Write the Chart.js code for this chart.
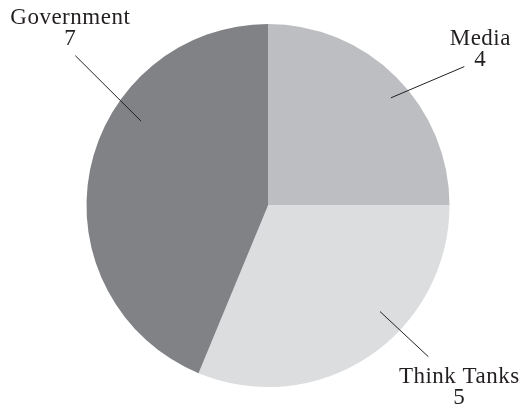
<!DOCTYPE html>
<html>
<head>
<meta charset="utf-8">
<script src="https://cdn.jsdelivr.net/npm/chart.js@4.4.0/dist/chart.umd.min.js"></script>
<style>
  html, body { margin: 0; padding: 0; background: #fff; }
  canvas { display: block; }
</style>
</head>
<body>
<canvas id="pieChart" width="524" height="408"></canvas>
<script>
// data
const categories = ['Media', 'Think Tanks', 'Government'];
const counts = [4, 5, 7];
const sliceColors = ['#bdbec1', '#dcdddf', '#818286'];

// leader lines: where they sit on each slice (fraction of slice angle, fraction of radius)
// and where the label goes relative to the outer end of the line
const leaders = [
  { inA: 0.542, inR: 0.90, outA: 0.608, outR: 1.325, dx: 16, dy: -22 },
  { inA: 0.386, inR: 0.85, outA: 0.385, outR: 1.214, dx: 31, dy: 26 },
  { inA: 0.642, inR: 0.84, outA: 0.669, outR: 1.345, dx: -5, dy: -32 }
];

const leaderPlugin = {
  id: 'leaderLabels',
  afterDatasetsDraw(chart) {
    const ctx = chart.ctx;
    const arcs = chart.getDatasetMeta(0).data;
    ctx.save();
    ctx.font = '23px "Liberation Serif", serif';
    ctx.letterSpacing = '0.5px';
    ctx.fillStyle = '#231f20';
    ctx.strokeStyle = '#231f20';
    ctx.lineWidth = 1;
    ctx.textAlign = 'center';
    ctx.textBaseline = 'alphabetic';
    arcs.forEach((arc, i) => {
      const p = arc.getProps(['x', 'y', 'startAngle', 'endAngle', 'outerRadius'], true);
      const L = leaders[i];
      const span = p.endAngle - p.startAngle;
      const a1 = p.startAngle + span * L.inA;
      const a2 = p.startAngle + span * L.outA;
      const x1 = p.x + Math.cos(a1) * p.outerRadius * L.inR;
      const y1 = p.y + Math.sin(a1) * p.outerRadius * L.inR;
      const x2 = p.x + Math.cos(a2) * p.outerRadius * L.outR;
      const y2 = p.y + Math.sin(a2) * p.outerRadius * L.outR;
      ctx.beginPath();
      ctx.moveTo(x1, y1);
      ctx.lineTo(x2, y2);
      ctx.stroke();
      const tx = x2 + L.dx;
      const ty = y2 + L.dy;
      ctx.fillText(categories[i], tx, ty);
      ctx.fillText(String(counts[i]), tx, ty + 21);
    });
    ctx.restore();
  }
};

new Chart(document.getElementById('pieChart').getContext('2d'), {
  type: 'pie',
  data: {
    labels: categories,
    datasets: [{
      data: counts,
      backgroundColor: sliceColors,
      borderWidth: 0
    }]
  },
  options: {
    responsive: false,
    animation: false,
    layout: { padding: { left: 12, right: 0, top: 24, bottom: 21 } },
    plugins: {
      legend: { display: false },
      tooltip: { enabled: false }
    }
  },
  plugins: [leaderPlugin]
});
</script>
</body>
</html>
